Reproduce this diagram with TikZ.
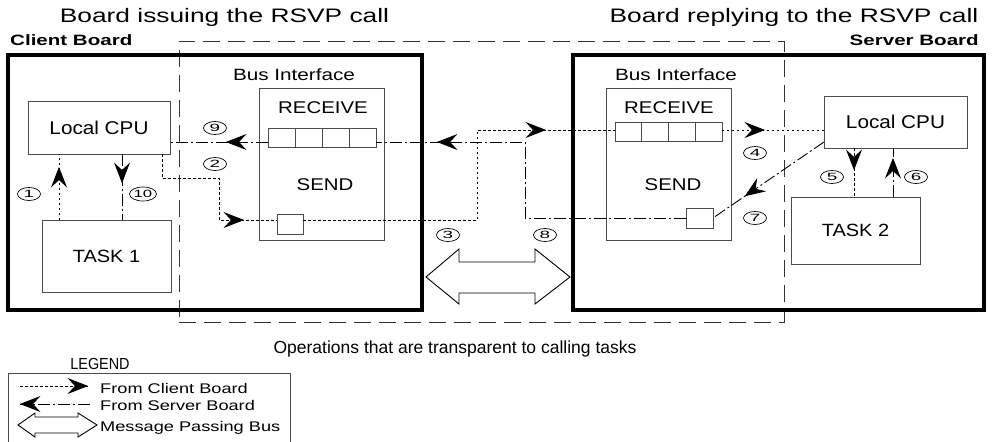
\documentclass[tikz,border=0pt]{standalone}
\usepackage{fontspec}
\setmainfont{Liberation Sans}
\usepackage{graphicx}
\usetikzlibrary{decorations.markings,shapes.geometric,calc}
\newcommand\tx[3]{\scalebox{#1}[1]{\fontsize{#2pt}{#2pt}\selectfont #3}}
\newcommand\headshape{\filldraw[solid, black, line width=0.8pt, line join=miter] (0pt,0pt) -- (-18pt,7pt) -- (-11.5pt,0pt) -- (-18pt,-7pt) -- cycle;}
\tikzset{
  box/.style={draw=black!70, line width=0.9pt, inner sep=0pt, outer sep=0pt},
  board/.style={draw=black, line width=4pt, inner sep=0pt},
  trans/.style={draw=black!80, line width=0.9pt, dash pattern=on 17pt off 8pt, inner sep=0pt},
  cell/.style={box, minimum height=19pt},
  num/.style={ellipse, draw=black, line width=0.7pt, minimum width=23pt, minimum height=13pt, inner sep=0pt},
  lbl/.style={inner sep=0pt, anchor=base},
  client/.style={line width=0.9pt, dash pattern=on 2.5pt off 2.5pt},
  server/.style={line width=0.9pt, dash pattern=on 12pt off 3pt on 2pt off 3pt},
  arrowat/.style={postaction={decorate,decoration={markings,mark=at position #1 with {\headshape}}}},
  busarrow/.style={draw=black, line width=0.9pt, fill=white}
}
\begin{document}
\begin{tikzpicture}[x=1pt,y=-1pt]
\useasboundingbox (0,0) rectangle (994,442);

% titles
\node[lbl] (t1) at (224.5,22.5) {\tx{1.35}{19.5}{Board issuing the RSVP call}};
\node[lbl] (t2) at (794,22.5) {\tx{1.35}{19.5}{Board replying to the RSVP call}};
\node[lbl, anchor=base west] (cbl) at (10,45.5) {\tx{1.37}{15}{\bfseries Client Board}};
\node[lbl, anchor=base east] (sbl) at (979,45.5) {\tx{1.37}{15}{\bfseries Server Board}};

% transparent region
\node[trans, minimum width=605pt, minimum height=281pt] (tr) at (481.5,181.5) {};

% boards
\node[board, minimum width=414pt, minimum height=255pt] (cb) at (215,182.5) {};
\node[board, minimum width=411pt, minimum height=255pt] (sb) at (778.5,182.5) {};

% client board content
\node[box, minimum width=142pt, minimum height=53pt] (cpu1) at (99,127.5) {\tx{1.12}{18.5}{Local CPU}};
\node[box, minimum width=129pt, minimum height=72pt] (task1) at (106.5,256) {\tx{1.13}{17.7}{TASK 1}};
\node[lbl] (bil1) at (294,80) {\tx{1.27}{16.3}{Bus Interface}};
\node[box, minimum width=125pt, minimum height=152pt] (bi1) at (321.5,164) {};
\node[lbl] (rc1) at (323,113.3) {\tx{1.2}{17}{RECEIVE}};
\node[lbl] (sd1) at (325,190) {\tx{1.2}{17}{SEND}};
\node[cell, minimum width=27pt] (q1a) at (281.5,137.5) {};
\node[cell, minimum width=27pt] (q1b) at (308.5,137.5) {};
\node[cell, minimum width=27pt] (q1c) at (335.5,137.5) {};
\node[cell, minimum width=27pt] (q1d) at (362.5,137.5) {};
\node[box, minimum width=26pt, minimum height=20pt] (sb1) at (290,224) {};

% server board content
\node[box, minimum width=143pt, minimum height=52pt] (cpu2) at (895.5,122) {\tx{1.12}{18.5}{Local CPU}};
\node[box, minimum width=129pt, minimum height=67pt] (task2) at (855.5,230.5) {\tx{1.13}{17.7}{TASK 2}};
\node[lbl] (bil2) at (676,80) {\tx{1.27}{16.3}{Bus Interface}};
\node[box, minimum width=125pt, minimum height=152pt] (bi2) at (668.5,164) {};
\node[lbl] (rc2) at (669,113.3) {\tx{1.2}{17}{RECEIVE}};
\node[lbl] (sd2) at (673,190) {\tx{1.2}{17}{SEND}};
\node[cell, minimum width=26.75pt] (q2a) at (628.4,131.5) {};
\node[cell, minimum width=26.75pt] (q2b) at (655.1,131.5) {};
\node[cell, minimum width=26.75pt] (q2c) at (681.9,131.5) {};
\node[cell, minimum width=26.75pt] (q2d) at (708.6,131.5) {};
\node[box, minimum width=27pt, minimum height=20pt] (sb2) at (699.5,218) {};

% helper coordinates
\coordinate (y142) at (0,142);
\coordinate (y130) at (0,130);
\coordinate (y220) at (0,220);
\coordinate (x59) at (59,0);
\coordinate (x122) at (122,0);
\coordinate (x854) at (854,0);
\coordinate (x893) at (893,0);

% connectors
\draw[client, arrowat=52pt] (task1.north -| x59) -- (cpu1.south -| x59);
\draw[server, arrowat=28pt] (cpu1.south -| x122) -- (task1.north -| x122);
\draw[client, arrowat=147pt] ($(cpu1.south east)+(-8,0)$) -- (162,178) -- (219,178) -- (219,220) -- (sb1.west |- y220);
\draw[client, arrowat=332pt] (sb1.east |- y220) -- (477,220) -- (477,130) -- (q2a.west |- y130);
\draw[client, arrowat=42pt] (q2d.east |- y130) -- (cpu2.west |- y130);
\draw[client, arrowat=21pt] (cpu2.south -| x854) -- (task2.north -| x854);
\draw[server, arrowat=38pt] (task2.north -| x893) -- (cpu2.south -| x893);
\draw[server, arrowat=95pt] ($(cpu2.south west)+(0,-6)$) -- (sb2.east);
\draw[server, arrowat=324pt] (sb2.west) -- (525,218) -- (525,142) -- (q1d.east |- y142);
\draw[server, arrowat=41pt] (q1a.west |- y142) -- (cpu1.east |- y142);

% message passing bus
\draw[busarrow] (cb.east |- 0,277) ++(2,0) -- (459,249) -- (459,262) -- (535,262) -- (535,249) -- (570,277) -- (535,304) -- (535,293) -- (459,293) -- (459,304) -- cycle;

% step numbers
\node[num] (n1) at (29,194) {\tx{1.8}{10.5}{1}};
\node[num] (n2) at (215,164) {\tx{1.8}{10.5}{2}};
\node[num] (n3) at (448,235) {\tx{1.8}{10.5}{3}};
\node[num] (n4) at (755,153) {\tx{1.8}{10.5}{4}};
\node[num] (n5) at (832,177) {\tx{1.8}{10.5}{5}};
\node[num] (n6) at (916,177) {\tx{1.8}{10.5}{6}};
\node[num] (n7) at (755,218) {\tx{1.8}{10.5}{7}};
\node[num] (n8) at (545,235) {\tx{1.8}{10.5}{8}};
\node[num] (n9) at (215,128) {\tx{1.8}{10.5}{9}};
\node[num, minimum width=27pt, minimum height=14pt] (n10) at (143,194) {\tx{1.6}{10.5}{10}};

% caption
\node[lbl] (cap) at (455,353) {\tx{1.0}{17.5}{Operations that are transparent to calling tasks}};

% legend
\node[lbl] (lg) at (100,369) {\tx{0.9}{16}{LEGEND}};
\draw[box] (8,442) -- (8,373) -- (290,373) -- (290,442);
\coordinate (l1a) at (20,386);
\coordinate (l1b) at (88,386);
\draw[client, arrowat=67pt] (l1a) -- (l1b);
\node[lbl, anchor=base west] (lt1) at (100,393.5) {\tx{1.3}{14}{From Client Board}};
\coordinate (l2a) at (20,404);
\coordinate (l2b) at (90,404);
\draw[server, arrowat=69pt] (l2b) -- (l2a);
\node[lbl, anchor=base west] (lt2) at (100,410) {\tx{1.3}{14}{From Server Board}};
\draw[busarrow] (18,425) -- (35,413) -- (35,417) -- (78,417) -- (78,413) -- (97,425) -- (78,437) -- (78,433) -- (35,433) -- (35,437) -- cycle;
\node[lbl, anchor=base west] (lt3) at (100,431) {\tx{1.3}{14}{Message Passing Bus}};
\end{tikzpicture}
\end{document}
